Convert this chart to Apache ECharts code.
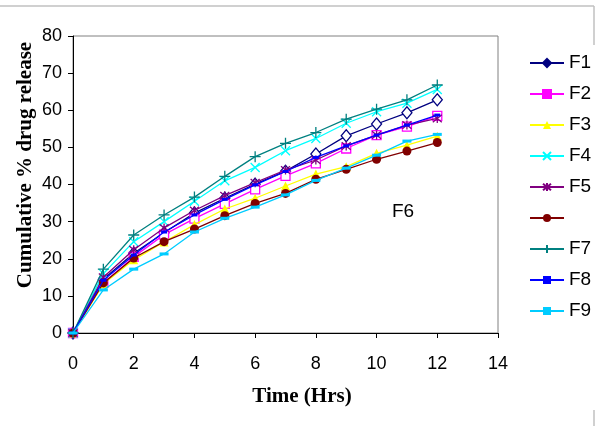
<!DOCTYPE html>
<html><head><meta charset="utf-8">
<script src="https://cdn.jsdelivr.net/npm/echarts@6/dist/echarts.min.js"></script>
<style>html,body{margin:0;padding:0;background:#fff}#c{width:600px;height:426px}</style>
</head><body><div id="c"></div>
<script>
var times = [0,1,2,3,4,5,6,7,8,9,10,11,12];
var seriesNames = ['F1','F2','F3','F4','F5','F6','F7','F8','F9'];
var F1 = [0,14.5,21.5,27.0,32.3,36.3,40.1,43.6,48.2,53.1,56.3,59.3,62.8];
var F2 = [0,13.5,20.5,26.5,30.8,34.8,38.7,42.3,45.7,49.7,53.3,55.6,58.5];
var F3 = [0,13.2,19.7,24.5,29.2,33.4,36.3,39.6,42.8,44.8,48.4,50.6,53.0];
var F4 = [0,16.0,24.6,30.0,35.5,41.0,44.6,49.1,52.4,56.5,59.6,61.9,65.6];
var F5 = [0,15.0,22.4,28.3,33.0,37.0,40.5,43.9,46.6,50.4,53.3,56.0,57.8];
var F6 = [0,13.5,20.2,24.6,28.0,31.6,34.9,37.6,41.4,44.1,46.8,49.0,51.3];
var F7 = [0,17.2,26.4,31.8,36.6,42.2,47.5,51.1,54.0,57.6,60.3,62.8,66.8];
var F8 = [0,14.2,21.0,27.2,31.8,36.0,39.9,43.5,47.3,50.4,53.3,56.0,58.7];
var F9 = [0,11.6,17.2,21.3,27.2,30.9,33.9,37.2,41.1,44.4,47.9,51.7,53.5];
var xTicks = [0,2,4,6,8,10,12,14];
var yTicks = [0,10,20,30,40,50,60,70,80];
var values = [F1,F2,F3,F4,F5,F6,F7,F8,F9];

var colors = ['#000080','#FF00FF','#FFFF00','#00FFFF','#800080','#800000','#008080','#0000FF','#00CCFF'];
var PX = 'path://M0,0L10,10M10,0L0,10';
var PSTAR = 'path://M0,0L10,10M10,0L0,10M5,-1L5,11';
var PPLUS = 'path://M5,0L5,10M0,5L10,5';
var symCfg = [
  {symbol:'diamond', size:[10,12], hollow:true},
  {symbol:'rect', size:9, hollow:true},
  {symbol:'triangle', size:9},
  {symbol:PX, size:9, stroke:true},
  {symbol:PSTAR, size:9, stroke:true},
  {symbol:'circle', size:9},
  {symbol:PPLUS, size:11, stroke:true},
  {symbol:'rect', size:[6,3]},
  {symbol:'rect', size:[9,3]}
];

var series = seriesNames.map(function(n,i){
  var c = colors[i], s = symCfg[i];
  var itemStyle;
  if (s.hollow) itemStyle = {color:'#fff', borderColor:c, borderWidth:1.3};
  else if (s.stroke) itemStyle = {color:c, borderColor:c, borderWidth:1.3};
  else itemStyle = {color:c, borderColor:c, borderWidth:0};
  return {
    name:n, type:'line', showSymbol:true, symbol:s.symbol, symbolSize:s.size,
    data: times.map(function(t,k){return [t, values[i][k]];}),
    lineStyle:{color:c, width:1.3}, itemStyle:itemStyle,
    emphasis:{disabled:true}, animation:false, z: 2+i
  };
});

var legendData = seriesNames.map(function(n,i){
  return {name:n, itemStyle:{color:colors[i], borderColor:colors[i]}};
});

var chart = echarts.init(document.getElementById('c'), null, {renderer:'canvas'});
chart.setOption({
  animation:false,
  backgroundColor:'#fff',
  color: colors,
  grid:{left:73, right:102, top:36, bottom:93, show:true, borderColor:'#808080', borderWidth:1, backgroundColor:'transparent'},
  xAxis:{type:'value', min:0, max:14, interval:2,
    axisLine:{show:true, onZero:false, lineStyle:{color:'#000', width:1}},
    axisTick:{show:true, length:5, lineStyle:{color:'#000'}},
    axisLabel:{color:'#000', fontSize:18, fontFamily:'Liberation Sans, Arial', margin:22,
      formatter:function(v){return xTicks.indexOf(v)>=0? String(v):'';}},
    splitLine:{show:false}},
  yAxis:{type:'value', min:0, max:80, interval:10,
    axisLine:{show:true, onZero:false, lineStyle:{color:'#000', width:1}},
    axisTick:{show:true, length:5, lineStyle:{color:'#000'}},
    axisLabel:{color:'#000', fontSize:18, fontFamily:'Liberation Sans, Arial', margin:11,
      formatter:function(v){return yTicks.indexOf(v)>=0? String(v):'';}},
    splitLine:{show:false}},
  legend:{orient:'vertical', left:529, top:53, padding:0, itemWidth:34, itemHeight:10, itemGap:11,
    backgroundColor:'#fff',
    data: legendData,
    formatter:function(n){return n==='F6' ? ' ' : n;},
    textStyle:{color:'#000', fontSize:19, fontFamily:'Liberation Sans, Arial', lineHeight:20}},
  graphic:[
    {type:'line', shape:{x1:0, y1:6, x2:594, y2:6}, style:{stroke:'#c0c0c0', lineWidth:1.5}, z:-1, silent:true},
    {type:'line', shape:{x1:594, y1:6, x2:594, y2:45}, style:{stroke:'#c0c0c0', lineWidth:1.5}, z:-1, silent:true},
    {type:'line', shape:{x1:594, y1:410, x2:594, y2:426}, style:{stroke:'#c0c0c0', lineWidth:1.5}, z:-1, silent:true},
    {type:'text', x:302, y:397, style:{text:'Time (Hrs)', font:'bold 21px "Liberation Serif", "Times New Roman", serif', fill:'#000', textAlign:'center', textVerticalAlign:'middle'}, silent:true},
    {type:'text', x:26, y:165, rotation:Math.PI/2, style:{text:'Cumulative % drug release', font:'bold 21px "Liberation Serif", "Times New Roman", serif', fill:'#000', textAlign:'center', textVerticalAlign:'middle'}, silent:true},
    {type:'text', x:403, y:212, style:{text:'F6', font:'19px "Liberation Sans", Arial, sans-serif', fill:'#000', textAlign:'center', textVerticalAlign:'middle'}, silent:true}
  ],
  series: series
});
</script></body></html>
